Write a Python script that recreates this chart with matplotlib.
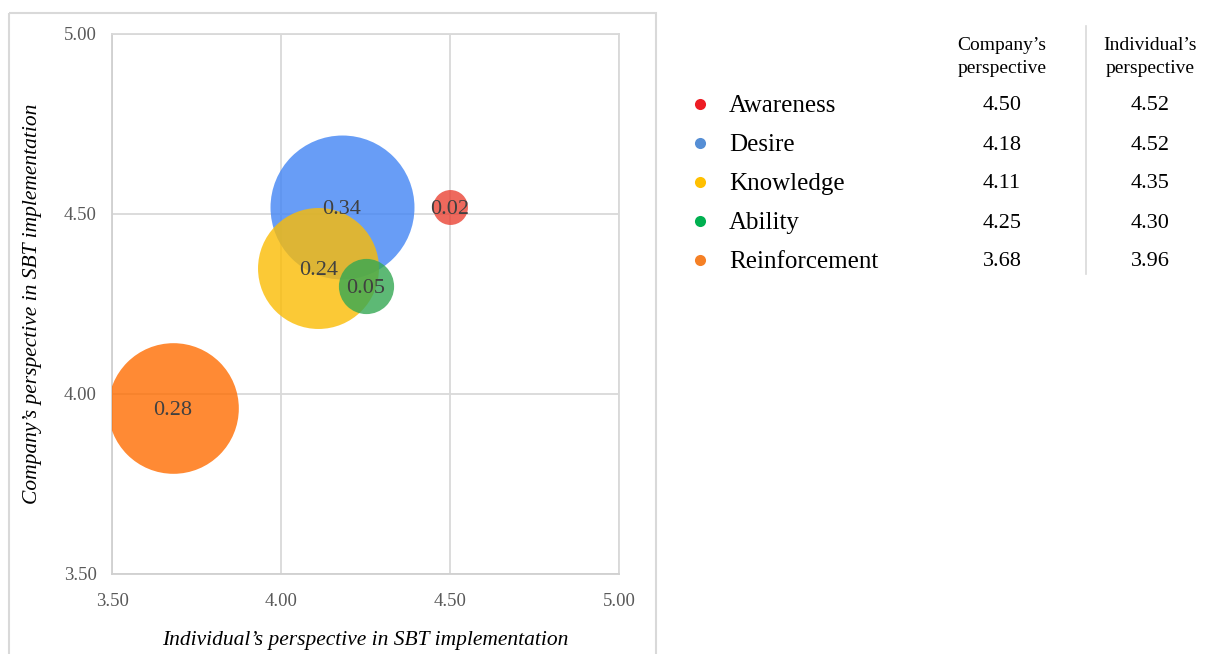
import matplotlib
matplotlib.use("Agg")
import matplotlib.pyplot as plt
from matplotlib.patches import Rectangle
import numpy as np

# Data
categories = ["Awareness", "Desire", "Knowledge", "Ability", "Reinforcement"]
company = [4.50, 4.18, 4.11, 4.25, 3.68]
individual = [4.52, 4.52, 4.35, 4.30, 3.96]
gap = [0.02, 0.34, 0.24, 0.05, 0.28]
ticks = [3.50, 4.00, 4.50, 5.00]

bubble_colors = ["#EA4335", "#4285F4", "#FBBC04", "#34A853", "#FF6D01"]
dot_colors = ["#ED1C24", "#558ED5", "#FFC000", "#00B050", "#F58025"]

plt.rcParams["font.family"] = ["Liberation Serif", "DejaVu Serif"]

W, H = 1220, 654
fig = plt.figure(figsize=(W / 100, H / 100), dpi=100)

# Overlay axes in pixel coordinates for the frame and the side table
ov = fig.add_axes([0, 0, 1, 1], zorder=0)
ov.set_xlim(0, W)
ov.set_ylim(H, 0)
ov.axis("off")
ov.add_patch(Rectangle((8.5, 12.5), 647, 660, fill=False,
                       edgecolor="#d9d9d9", linewidth=1.5))

# Bubble chart
ax = fig.add_axes([112 / W, 1 - 574 / H, (619 - 112) / W, (574 - 34) / H], zorder=2)
ax.set_xlim(3.5, 5.0)
ax.set_ylim(3.5, 5.0)
ax.set_xticks(ticks)
ax.set_yticks(ticks)
ax.set_xticklabels([f"{t:.2f}" for t in ticks])
ax.set_yticklabels([f"{t:.2f}" for t in ticks])
ax.tick_params(length=0, labelsize=13.5, labelcolor="#595959")
ax.tick_params(axis="x", pad=14)
ax.tick_params(axis="y", pad=11)
ax.grid(True, color="#d9d9d9", linewidth=1.3)
ax.set_axisbelow(True)
for name, sp in ax.spines.items():
    sp.set_color("#d0d0d0" if name in ("left", "bottom") else "#d9d9d9")
    sp.set_linewidth(1.3)

size_scale = 31600
for i, cat in enumerate(categories):
    ax.scatter(company[i], individual[i], s=gap[i] * size_scale,
               color=bubble_colors[i], alpha=0.8, linewidths=0, zorder=3)
for i, cat in enumerate(categories):
    ax.text(company[i], individual[i], f"{gap[i]:.2f}", ha="center",
            va="center_baseline", fontsize=16, color="#404040", zorder=5)

ax.set_xlabel("Individual\u2019s perspective in SBT implementation",
              fontsize=15.5, style="italic", labelpad=15)
ax.set_ylabel("Company\u2019s perspective in SBT implementation",
              fontsize=15.5, style="italic", labelpad=16)

# Side table with values
row0, step = 104, 39
col1, col2 = 1002, 1150
ov.text(col1, 57, "Company\u2019s\nperspective", ha="center", va="center",
        fontsize=14, linespacing=1.4)
ov.text(col2, 57, "Individual\u2019s\nperspective", ha="center", va="center",
        fontsize=14, linespacing=1.4)
ov.plot([1086, 1086], [26, 274], color="#d9d9d9", linewidth=1.2)
for i, cat in enumerate(categories):
    y = row0 + i * step
    ov.plot(700, y, "o", color=dot_colors[i], markersize=8, markeredgewidth=0)
    ov.text(729, y + 2, cat, ha="left", va="center", fontsize=18)
    ov.text(col1, y + 2, f"{company[i]:.2f}", ha="center", va="center", fontsize=16)
    ov.text(col2, y + 2, f"{individual[i]:.2f}", ha="center", va="center", fontsize=16)

fig.savefig("out.png", dpi=100)
